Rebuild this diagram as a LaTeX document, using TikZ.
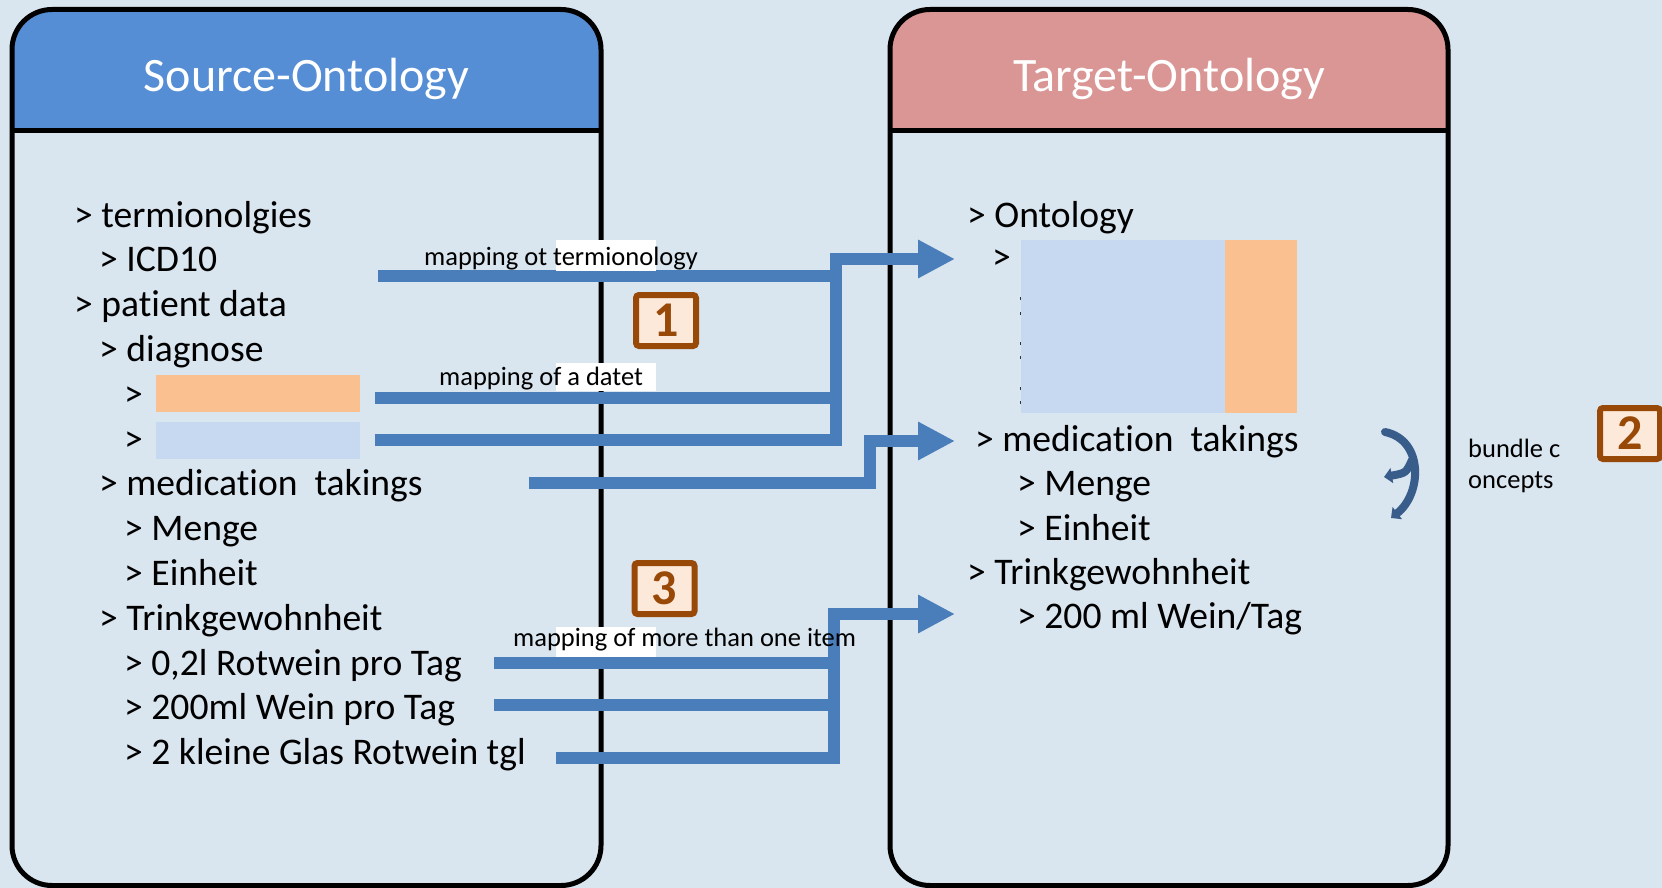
\documentclass[tikz,border=0pt]{standalone}
\usepackage{fontspec}
\setmainfont{Carlito}[Ligatures={NoCommon}]
\usetikzlibrary{arrows.meta}
\definecolor{bg}{HTML}{D9E5EF}
\definecolor{hdrblue}{HTML}{558ED5}
\definecolor{hdrred}{HTML}{D99694}
\definecolor{flowblue}{HTML}{4A7EBB}
\definecolor{darkblue}{HTML}{385D8A}
\definecolor{peach}{HTML}{FAC090}
\definecolor{paleblue}{HTML}{C6D9F1}
\definecolor{badgefill}{HTML}{FDE9D9}
\definecolor{badgeline}{HTML}{984807}
\tikzset{
  panel/.style={draw=black, line width=5pt, fill=bg, rounded corners=40pt,
    outer sep=0pt, inner sep=0pt},
  paneltitle/.style={anchor=base, inner sep=0pt, text=white,
    font=\fontsize{48}{56}\selectfont},
  item/.style={anchor=base west, inner sep=0pt, font=\fontsize{37.6}{44}\selectfont},
  note/.style={anchor=base west, inner sep=0pt, font=\fontsize{26.5}{31}\selectfont},
  flow/.style={draw=flowblue, line width=12pt, line join=miter},
  flowtip/.style={flow, -{Triangle[length=37pt,width=36pt]}},
  badge/.style={draw=badgeline, fill=badgefill, line width=6pt, rounded corners=3pt,
    minimum width=60pt, minimum height=51pt, inner sep=0pt, outer sep=0pt,
    text=badgeline, font=\fontsize{50}{58}\selectfont\bfseries},
  swirl/.style={draw=darkblue, line width=8pt, line cap=round,
    -{Triangle[length=8pt,width=15pt]}},
}
\begin{document}
\begin{tikzpicture}[x=1pt,y=-1pt]
\useasboundingbox (0,0) rectangle (1662,888);
\fill[bg] (0,0) rectangle (1662,888);

% the two ontology panels with coloured headers
\node[panel, minimum width=589pt, minimum height=876pt,
  path picture={\fill[hdrblue, sharp corners] (path picture bounding box.north west)
    rectangle ([yshift=-121pt]path picture bounding box.north east);}]
  (src) at (306.5,447.5) {};
\draw[line width=5pt] ([yshift=-121pt]src.north west) -- ([yshift=-121pt]src.north east);
\node[panel, minimum width=558pt, minimum height=876pt,
  path picture={\fill[hdrred, sharp corners] (path picture bounding box.north west)
    rectangle ([yshift=-121pt]path picture bounding box.north east);}]
  (tgt) at (1169,447.5) {};
\draw[line width=5pt] ([yshift=-121pt]tgt.north west) -- ([yshift=-121pt]tgt.north east);

\node[paneltitle] (srctitle) at (306.5,92) {Source-Ontology};
\node[paneltitle] (tgttitle) at (1169,92) {Target-Ontology};

% source tree
\node[item] (s1)  at (74,227)    {> termionolgies};
\node[item] (s2)  at (99,271.8)  {> ICD10};
\node[item] (s3)  at (74,316.6)  {> patient data};
\node[item] (s4)  at (99,361.4)  {> diagnose};
\node[item] (s5)  at (124,406.2) {> \hspace{3pt}(};
\node[item] (s6)  at (124,451)   {> \hspace{3pt}(};
\node[item] (s7)  at (99,495.8)  {> medication~~takings};
\node[item] (s8)  at (124,540.6) {> Menge};
\node[item] (s9)  at (124,585.4) {> Einheit};
\node[item] (s10) at (99,630.2)  {> Trinkgewohnheit};
\node[item] (s11) at (124,675)   {> 0,2l Rotwein pro Tag};
\node[item] (s12) at (124,719.8) {> 200ml Wein pro Tag};
\node[item] (s13) at (124,764.6) {> 2 kleine Glas Rotwein tgl};
\fill[peach]    (156,375) rectangle (360,412);
\fill[paleblue] (156,422) rectangle (360,459);

% target tree
\node[item] (t1) at (967,227) {> Ontology};
\node[item] (t2) at (992,269) {>};
\node[item] (t3) at (975,451) {> medication~~takings};
\node[item] (t4) at (1017,495) {> Menge};
\node[item] (t5) at (1017,540) {> Einheit};
\node[item] (t6) at (967,584) {> Trinkgewohnheit};
\node[item] (t7) at (1017,628) {> 200 ml Wein/Tag};
\fill[paleblue] (1021,240) rectangle (1225,413);
\fill[peach]    (1225,240) rectangle (1297,413);
\foreach \yy in {297,312,342,356,387,401}
  \fill[black!80] (1019.8,\yy) rectangle (1021.2,\yy+2.5);

% connector anchors
\coordinate (a1) at (378,276);
\coordinate (a2) at (374.5,397.5);
\coordinate (a3) at (374.5,440);
\coordinate (j1) at (836,440);
\coordinate (k1) at (836,259);
\coordinate (e1) at (955,259);
\coordinate (b1) at (528.7,482.5);
\coordinate (j2) at (870,482.5);
\coordinate (k2) at (870,441);
\coordinate (e2) at (955,441);
\coordinate (c1) at (494,663);
\coordinate (c2) at (494,705);
\coordinate (c3) at (556,757.5);
\coordinate (j3) at (834,757.5);
\coordinate (k3) at (834,614);
\coordinate (e3) at (955,614);

% mapping 1: terminology and diagnoses
\draw[flowtip] (a3) -- (j1) -- (k1) -- (e1);
\draw[flow] (a1) -- (a1 -| j1);
\draw[flow] (a2) -- (a2 -| j1);
% medication takings
\draw[flowtip] (b1) -- (j2) -- (k2) -- (e2);
% mapping 3: several drinking entries
\draw[flowtip] (c3) -- (j3) -- (k3) -- (e3);
\draw[flow] (c1) -- (c1 -| j3);
\draw[flow] (c2) -- (c2 -| j3);

% connector labels
\fill[white] (555.5,240) rectangle (656,271);
\fill[white] (555.5,363) rectangle (656,391);
\fill[white] (555.5,627) rectangle (656,657);
\node[note] (l1) at (424,265) {mapping ot termionology};
\node[note] (l2) at (439,385) {mapping of a datet};
\node[note] (l3) at (513,646) {mapping of more than one item};

% numbered badges
\node[badge] (n1) at (666,320.5) {1};
\node[badge] (n3) at (664.5,588.5) {3};
\node[badge] (n2) at (1630,433.5) {2};

% bundling hint
\coordinate (w0) at (1385,432);
\coordinate (w1) at (1391,518);
\coordinate (w2) at (1412,460);
\coordinate (w3) at (1384,477);
\draw[swirl] (w0) .. controls (1424,440) and (1422,494) .. (w1);
\draw[swirl] (w2) .. controls (1406,473) .. (w3);
\node[note] (bund1) at (1468,457) {bundle c};
\node[note] (bund2) at (1468,488) {oncepts};
\end{tikzpicture}
\end{document}
